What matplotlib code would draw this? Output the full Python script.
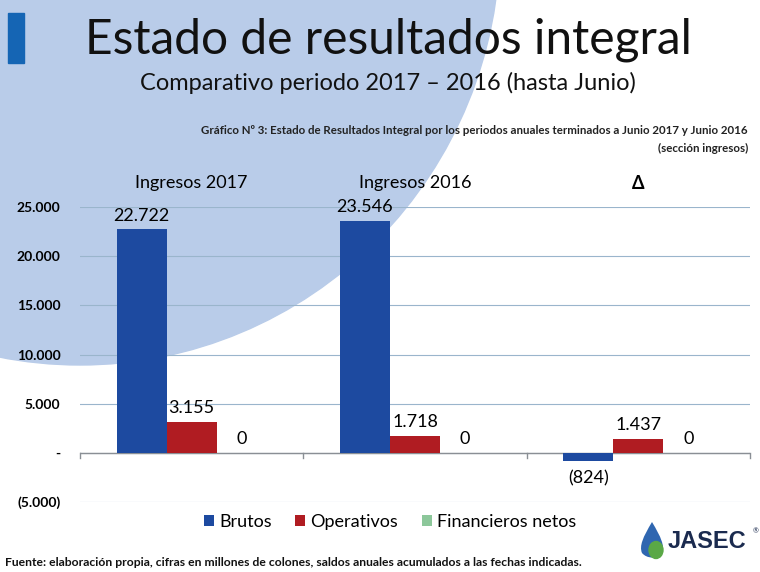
import matplotlib.pyplot as plt
import numpy as np
from matplotlib.patches import Ellipse, Rectangle, PathPatch
from matplotlib.path import Path
from matplotlib.ticker import FuncFormatter

plt.rcParams['font.family'] = ['Lato', 'DejaVu Sans']

categories = ['Ingresos 2017', 'Ingresos 2016', 'Δ']
series_names = ['Brutos', 'Operativos', 'Financieros netos']
brutos = [22722, 23546, -824]
operativos = [3155, 1718, 1437]
financieros = [0, 0, 0]
colors = ['#1d4aa0', '#b01c22', '#8cc79a']


def fmt(v):
    if v == 0:
        return '-'
    s = f'{abs(v):,.0f}'.replace(',', '.')
    return f'({s})' if v < 0 else s


def fmt_label(v):
    if v == 0:
        return '0'
    return fmt(v)


W, H = 760, 572
fig = plt.figure(figsize=(7.6, 5.72), dpi=100)

# background layer in pixel coordinates
bg = fig.add_axes([0, 0, 1, 1], zorder=0)
bg.set_xlim(0, W)
bg.set_ylim(H, 0)
bg.axis('off')
bg.add_patch(Rectangle((0, 0), W, H, color='white'))
bg.add_patch(Ellipse((80, -60), 840, 850, color='#b9cce9'))
bg.add_patch(Rectangle((8, 13), 16, 50, color='#1565b4'))

# JASEC logo
drop = Path([(652, 522), (643, 537), (639, 546), (642, 553), (647, 559), (657, 559),
             (662, 553), (665, 546), (661, 537), (652, 522)],
            [Path.MOVETO, Path.CURVE4, Path.CURVE4, Path.CURVE4, Path.CURVE4,
             Path.CURVE4, Path.CURVE4, Path.CURVE4, Path.CURVE4, Path.CURVE4])
bg.add_patch(PathPatch(drop, facecolor='#2f66b0', edgecolor='none'))
bg.add_patch(Ellipse((656, 550), 14, 17, color='#5aa846'))
bg.text(668, 542, 'JASEC', fontsize=17, fontweight='bold', color='#1b2b4f',
        family=['Liberation Sans'], va='center', ha='left')
bg.text(753, 531, '®', fontsize=5, color='#1b2b4f', va='center', ha='left')

# titles
fig.text(388 / W, 1 - 40 / H, 'Estado de resultados integral', fontsize=34.5,
         ha='center', va='center', color='#111111')
fig.text(388 / W, 1 - 83 / H, 'Comparativo periodo 2017 – 2016 (hasta Junio)',
         fontsize=17, ha='center', va='center', color='#111111')
fig.text(748 / W, 1 - 130 / H,
         'Gráfico Nº 3: Estado de Resultados Integral por los periodos anuales terminados a Junio 2017 y Junio 2016',
         fontsize=8.3, fontweight='bold', ha='right', va='center', color='#222222')
fig.text(748 / W, 1 - 148 / H, '(sección ingresos)', fontsize=8.3,
         fontweight='bold', ha='right', va='center', color='#222222')
fig.text(5 / W, 1 - 562 / H,
         'Fuente: elaboración propia, cifras en millones de colones, saldos anuales acumulados a las fechas indicadas.',
         fontsize=8.7, fontweight='bold', ha='left', va='center', color='#111111')

# chart
ax = fig.add_axes([80 / W, 1 - 502 / H, 670 / W, 295 / H], zorder=1)
ax.set_facecolor('none')
x = np.arange(len(categories))
bw = 0.224
for i, (vals, c) in enumerate(zip([brutos, operativos, financieros], colors)):
    pos = x + (i - 1) * bw
    ax.bar(pos, vals, width=bw, color=c, label=series_names[i], zorder=3)
    for p, v in zip(pos, vals):
        if v < 0:
            ax.text(p, v - 1000, fmt_label(v), ha='center', va='top', fontsize=13)
        else:
            ax.text(p, v + 600, fmt_label(v), ha='center', va='bottom', fontsize=13)

ax.set_xlim(-0.5, 2.5)
ax.set_ylim(-5000, 25000)
ax.set_yticks(np.arange(-5000, 25001, 5000))
ax.yaxis.set_major_formatter(FuncFormatter(lambda v, p: fmt(v)))
ax.tick_params(axis='y', length=0, pad=14, labelsize=10)
for lbl in ax.get_yticklabels():
    lbl.set_fontweight('bold')
ax.grid(axis='y', color='#9ab5cc', linewidth=0.8, zorder=0)
ax.set_xticks([])
for s in ['top', 'right', 'left', 'bottom']:
    ax.spines[s].set_visible(False)

# zero axis line with category boundary ticks
ax.axhline(0, color='#8a8f95', linewidth=1.0, zorder=2)
for b in np.arange(-0.5, 2.6, 1.0):
    ax.plot([b, b], [0, -500], color='#8a8f95', linewidth=1.0, zorder=2, clip_on=False)

# category labels at top
for xi, c in zip(x, categories):
    ax.text(xi, 27400, c, ha='center', va='center', fontsize=13,
            fontweight='bold' if c == 'Δ' else 'normal')

ax.legend(loc='center', bbox_to_anchor=(390 / W, 1 - 522 / H), bbox_transform=fig.transFigure,
          ncol=3, frameon=False, fontsize=13, handlelength=0.55, handleheight=0.55,
          handletextpad=0.3, columnspacing=1.3)

fig.savefig('out.png', dpi=100)
